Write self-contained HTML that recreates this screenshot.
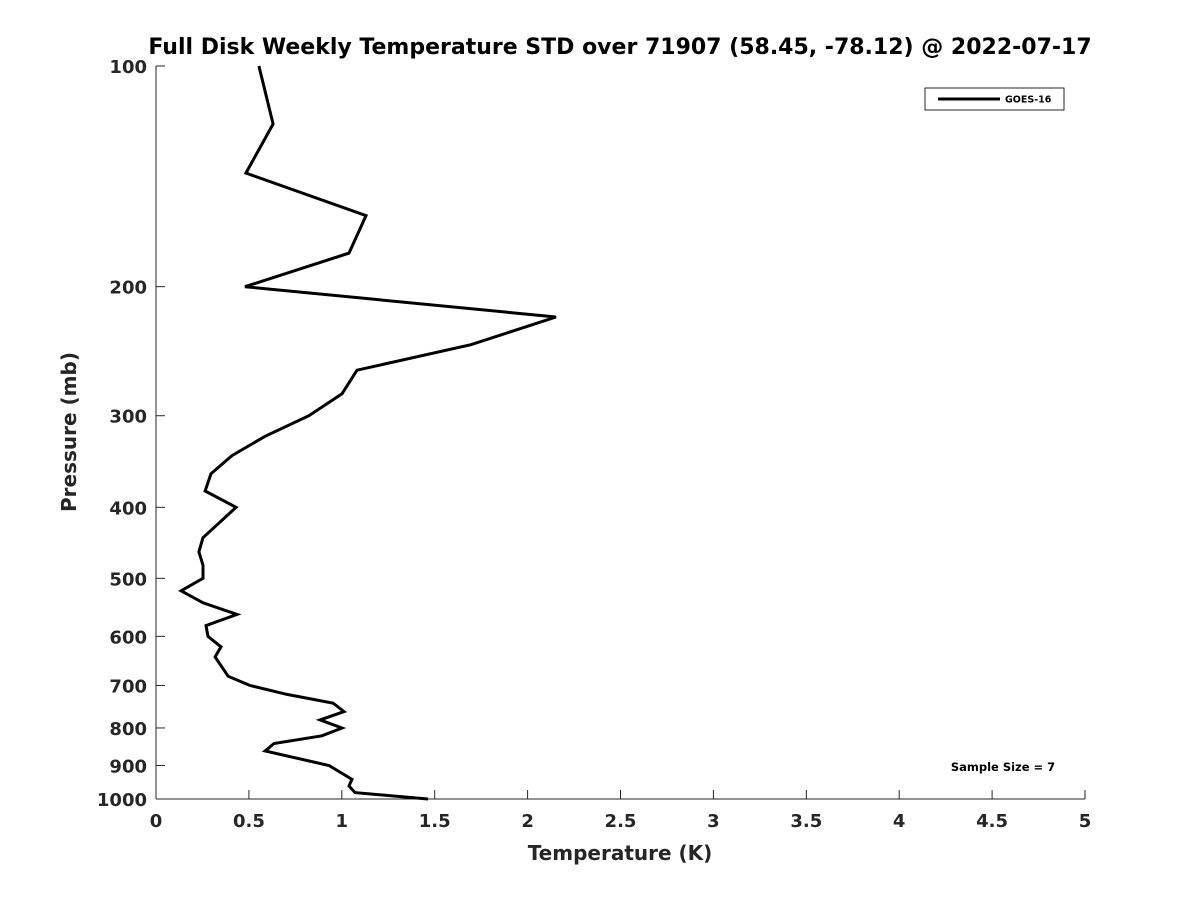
<!DOCTYPE html>
<html><head><meta charset="utf-8"><style>
body{margin:0;background:#fff;}
svg{font-family:"DejaVu Sans","Liberation Sans",sans-serif;font-weight:bold;}
</style></head><body>
<svg id="chart" width="1200" height="900">
<text x="620" y="54" text-anchor="middle" font-size="22" fill="#000">Full Disk Weekly Temperature STD over 71907 (58.45, -78.12) @ 2022-07-17</text>
<g id="axes"></g>
<text x="620" y="860" text-anchor="middle" font-size="20" fill="#262626">Temperature (K)</text>
<text transform="translate(76,432) rotate(-90)" text-anchor="middle" font-size="20" fill="#262626">Pressure (mb)</text>
<g>
<rect x="925" y="88" width="139" height="22" fill="#fff" stroke="#262626" stroke-width="1"/>
<line x1="938" y1="99" x2="1000" y2="99" stroke="#000" stroke-width="3"/>
<text x="1005" y="102.5" font-size="9.5" fill="#000">GOES-16</text>
</g>
<text x="1003" y="771" text-anchor="middle" font-size="11.5" fill="#000">Sample Size = 7</text>
</svg>
<script>
const pressures=[100,120,140,160,180,200,220,240,260,280,300,320,340,360,380,400,440,460,480,500,520,540,560,580,600,620,640,680,700,720,740,760,780,800,820,840,860,900,940,960,980,1000];
const tempStd=[0.554,0.63,0.484,1.13,1.039,0.479,2.153,1.695,1.082,1.001,0.823,0.587,0.409,0.296,0.264,0.431,0.253,0.231,0.253,0.253,0.135,0.253,0.436,0.269,0.28,0.35,0.318,0.388,0.506,0.705,0.953,1.012,0.883,1.001,0.893,0.635,0.587,0.931,1.055,1.039,1.071,1.464];
const xTicks=[0,0.5,1,1.5,2,2.5,3,3.5,4,4.5,5];
const yTicks=[100,200,300,400,500,600,700,800,900,1000];
const L=156,R=1085,T=66,B=799;
const xs=v=>L+(v-0)/(5-0)*(R-L);
const ys=p=>T+(Math.log10(p)-2)/(3-2)*(B-T);
const NS="http://www.w3.org/2000/svg";
const g=document.getElementById('axes');
function mk(tag,attrs,parent){const e=document.createElementNS(NS,tag);for(const k in attrs)e.setAttribute(k,attrs[k]);(parent||g).appendChild(e);return e;}
const xa=mk('line',{x1:L,y1:B,x2:R,y2:B,stroke:'#262626','stroke-width':1});


const ya=mk('line',{x1:L,y1:T,x2:L,y2:B,stroke:'#262626','stroke-width':1});


xTicks.forEach(v=>{
 const x=xs(v);
 const t=mk('line',{x1:x,y1:B,x2:x,y2:B-9,stroke:'#262626'});
 
 
 const lb=mk('text',{x:x,y:B+28,'text-anchor':'middle','font-size':18,fill:'#262626'});
 lb.textContent=v;
 
 
});
yTicks.forEach(p=>{
 const y=ys(p);
 const t=mk('line',{x1:L,y1:y,x2:L+9,y2:y,stroke:'#262626'});
 
 
 const lb=mk('text',{x:L-9,y:y+7,'text-anchor':'end','font-size':18,fill:'#262626'});
 lb.textContent=p;
 
 
});
const pts=pressures.map((p,i)=>xs(tempStd[i]).toFixed(1)+','+ys(p).toFixed(1)).join(' ');
const line=mk('polyline',{points:pts,fill:'none',stroke:'#000','stroke-width':3,'stroke-linejoin':'miter'});


</script>
</body></html>
